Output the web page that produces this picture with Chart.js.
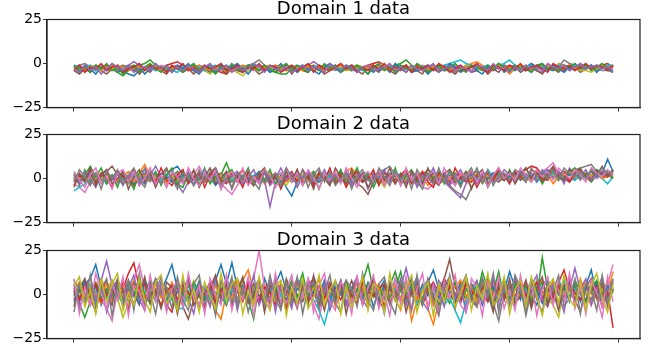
<!DOCTYPE html>
<html>
<head>
<meta charset="utf-8">
<script src="https://cdn.jsdelivr.net/npm/chart.js@4.4.0/dist/chart.umd.min.js"></script>
<style>
    html, body { margin: 0; padding: 0; background: #fff; }
    #wrap { position: relative; width: 648px; height: 351px; overflow: hidden; }
    .panel { position: absolute; left: 0; width: 648px; height: 116px; }
</style>
</head>
<body>
<div id="wrap">
    <div class="panel" style="top:0px"><canvas id="chart1" width="648" height="116"></canvas></div>
    <div class="panel" style="top:115px"><canvas id="chart2" width="648" height="116"></canvas></div>
    <div class="panel" style="top:231px"><canvas id="chart3" width="648" height="116"></canvas></div>
</div>
<script>
const titles = ["Domain 1 data", "Domain 2 data", "Domain 3 data"];
const steps = Array.from({ length: 100 }, (_, i) => i);
const xTicks = [0, 20, 40, 60, 80, 100];
const yTicks = [-25, 0, 25];
const palette = ["#1f77b4", "#ff7f0e", "#2ca02c", "#d62728", "#9467bd",
    "#8c564b", "#e377c2", "#7f7f7f", "#bcbd22", "#17becf"];

// domain 1: small noise around -2.5
const domain1 = [
    [-3,-2,-4,-3,-1,-2,-4,-3,-5,-4,-6,-7,-4,-2,-3,-1,-2,-4,-3,-2,
     -3,-4,-1,-2,-3,-5,-3,-2,-1,-3,-4,-2,-3,-1,-4,-2,-5,-3,-2,-1,
     -2,-4,-3,-1,-2,-3,-4,-2,-1,-3,-2,-4,-1,-2,-3,-5,-2,-3,-1,-2,
     -3,-1,-4,-2,-3,-1,-2,-4,-3,-2,-1,-3,-2,-4,-1,-2,-3,-1,-2,-4,
     -2,-1,-3,-2,0,-2,-1,-3,-4,-1,-2,-3,-1,-2,-1,-3,-2,-1,-3,-2],
    [-1,-3,-4,-2,-1,-3,-2,-4,-2,-1,-3,-4,-2,-3,-1,-4,-2,-3,-4,-2,
     -1,-3,-4,-2,-3,-1,-2,-4,-5,-2,-3,-1,-2,-4,-3,-2,-1,-3,-2,-4,
     -2,-5,-3,-2,-1,-3,-2,-4,-2,-1,-3,-4,-2,-3,-1,-2,-3,-4,-2,-1,
     -1,-3,-2,-4,-1,-2,-3,-4,-2,-3,-5,-3,-2,0,1,-1,-3,-1,-2,-3,
     -6,-3,-1,-2,-3,-4,-1,-2,-3,0,-1,-2,-3,-1,-2,-3,-1,-2,-1,-2],
    [-2,-3,-2,-1,-4,-2,-4,-3,-5,-7,-4,-2,-1,0,2,-1,-3,-4,-2,-3,
     -4,-2,-1,-3,-4,-2,-3,-1,-2,-4,-3,-2,-4,-1,-2,-3,-4,-5,-6,-6,
     -3,-2,-3,-1,-2,-4,-3,-2,-1,-3,-4,-2,-1,-3,-2,-4,-3,-1,-2,-1,
     0,2,-1,-3,-4,-5,-3,-2,-3,-1,-2,-4,-3,-2,-1,-3,-4,-2,-3,-1,
     -2,-3,-1,-4,-2,-3,-1,-2,-3,-4,-1,-2,-3,-1,-2,-3,-1,-2,-3,-1],
    [-2,-1,-3,-4,-2,-3,-1,-2,-4,-3,-2,-1,-4,-3,-2,-1,-3,-1,0,1,
     -1,-3,-4,-2,-3,-4,-4,-5,-6,-3,-2,-3,-1,-2,-4,-3,-2,-1,-3,-2,
     -4,-2,-1,-3,-2,-4,-3,-1,-2,-3,-1,-2,-4,-3,-1,0,1,-1,-3,-2,
     -4,-2,-3,-1,-2,-4,-3,-2,-1,-3,-2,-4,-3,-1,-2,-3,-1,-4,-2,-3,
     -1,-2,-3,-4,-1,-2,-3,-1,-2,-3,-4,-2,-1,-3,-2,-1,-3,-1,0,-2],
    [-3,-4,-2,-3,-1,-4,-2,-3,-4,-2,-1,1,-1,-3,-4,-2,-3,-4,-2,-1,
     -3,-2,-4,-1,-2,-3,-4,-2,-3,-1,-2,-4,-3,-2,-1,-3,-4,-2,-3,-1,
     -2,-4,-3,-1,1,-1,-2,-3,-4,-2,-3,-1,-2,-4,-3,-2,-1,-3,-2,-4,
     -2,-1,-3,-4,-2,-3,-1,-2,-4,-3,-2,-1,-3,-2,-4,-2,-1,-3,-2,-1,
     -4,-2,-3,-1,-2,-4,-5,-2,-1,-3,-2,-1,-2,-4,-3,-1,-2,-3,-1,-2],
    [-4,-6,-3,-5,-2,-4,-6,-3,-1,-5,-4,-2,-6,-3,-5,-1,-4,-6,-2,-3,
     -5,-3,-6,-2,-4,-1,-5,-3,-6,-2,-4,-5,-1,-3,-6,-4,-2,-5,-3,-1,
     -6,-2,-4,-5,-1,-3,-6,-4,-2,-5,-3,-1,-4,-6,-2,-3,-5,-1,-4,-6,
     -3,-5,-2,-4,-6,-1,-3,-5,-2,-4,-6,-3,-1,-5,-4,-2,-6,-3,-5,-1,
     -4,-2,-5,-3,-1,-4,-6,-2,-3,-5,-1,-4,-2,-5,-3,-1,-4,-2,-3,-5],
    [-2,-1,-3,-2,-4,-1,-2,-3,-1,-4,-2,-3,-1,-2,-3,-4,-1,-2,-3,-1,
     -2,-4,-2,-1,-3,-2,-1,-4,-2,-3,-1,-2,-3,-4,-2,-1,-3,-2,-1,-2,
     -1,-3,-4,-2,-3,-1,-2,-1,-3,-4,-2,-1,-3,-2,-1,-2,-4,-2,-1,-3,
     -2,-1,-3,-2,-1,-4,-2,-1,-3,-2,-1,-3,-2,-4,-1,-2,-3,-1,-2,-3,
     -1,-2,-1,-3,-2,-1,-4,-2,-1,-3,-1,-2,-3,-1,-2,-1,-4,-2,-1,-3],
    [-2,-1,0,-2,-4,-3,-2,-4,-3,-1,-2,-4,-5,-3,-2,-1,-3,-4,-2,-3,
     -1,-2,-4,-3,-2,-1,-3,-2,-4,-3,-1,-2,-1,0,2,-1,-3,-2,-4,-3,
     -2,-1,-3,-4,-2,-3,-1,-2,-3,-4,-2,-1,-3,-2,-4,-3,-2,-1,-3,-2,
     -4,-3,-1,-2,-3,-4,-2,-3,-4,-4,-5,-3,-2,-1,-3,-2,-4,-3,-1,-2,
     -3,-1,-2,-4,-3,-1,-2,-3,-1,-2,2,0,-1,-3,-2,-1,-3,-4,-4,-5],
    [-3,-4,-2,-3,-1,-2,-4,-3,-2,-4,-1,-3,-2,-4,-3,-1,-2,-3,-4,-2,
     -3,-1,-2,-4,-4,-6,-3,-2,-4,-4,-5,-7,-4,-2,-3,-1,-2,-4,-3,-2,
     -1,-3,-4,-2,-3,-1,-2,-4,-3,-2,-4,-3,-1,-2,-3,-4,-2,-1,-3,-4,
     -2,-3,-1,-2,-4,-3,-2,-1,-3,-2,-4,-3,-1,-2,-3,-4,-2,-3,-1,-2,
     -3,-4,-2,-1,-3,-2,-1,-3,-2,-4,-2,-1,-3,-4,-4,-5,-3,-2,-3,-1],
    [-1,-2,-3,-1,-4,-2,-3,-1,-2,-3,-4,-2,-1,-3,-2,-4,-2,-3,-4,-5,
     -2,-1,-3,-2,-4,-2,-1,-3,-2,-4,-3,-2,-1,-3,-4,-2,-3,-1,-2,-3,
     -4,-2,-1,-3,-2,-1,-3,-4,-2,-3,-1,-2,-3,-4,-2,-1,-3,-2,-4,-2,
     -1,-3,-2,-4,-2,-1,-3,-2,-1,0,1,2,0,-1,-3,-2,-1,-3,-1,0,
     2,-1,-3,-2,-1,-3,-2,-1,-2,-1,-3,-2,-1,-2,-1,-3,-1,-2,-1,-1],
    [-2,-5,-1,-3,-6,-2,-4,0,-3,-5,-1,-4,-2,-6,-3,0,-4,-2,-5,-1,
     -3,0,-4,-6,-2,-3,-5,-1,-4,-2,0,-3,-6,-2,-4,-1,-5,-3,0,-4,
     -2,-5,-1,-3,-4,-6,-2,0,-3,-5,-1,-4,-2,-3,-6,-1,-4,-2,-5,0,
     -3,-1,-5,-4,-2,-6,-3,-1,-4,0,-2,-5,-3,-1,-4,-6,-2,-3,0,-5,
     -2,-4,-1,-3,-5,-2,0,-4,-1,-3,-5,-2,-4,0,-3,-1,-5,-2,-3,-4],
    [-2,-4,-3,-2,-3,-4,-2,-1,-3,-2,-4,-3,-2,-3,-1,-2,-4,-2,-3,-2,
     -4,-3,-2,-1,-3,-4,-2,-3,-2,-4,-3,-1,-2,-3,-4,-2,-3,-1,-2,-4,
     -3,-2,-4,-1,-3,-2,-4,-3,-2,-1,-3,-4,-2,-3,-2,-1,-3,-2,-4,-3,
     -2,-1,-3,-2,-4,-3,-2,-1,-3,-2,-4,-3,-2,-1,-2,-3,-4,-2,-1,-3,
     -2,-3,-1,-2,-4,-2,-3,-1,-2,-3,-2,-1,-3,-2,-1,-2,-3,-1,-2,-2],
    [-1,-4,-2,-5,-1,-3,0,-4,-2,-6,-3,-1,-5,-2,0,-3,-5,-1,-4,-2,
     -5,-2,0,-4,-1,-3,-6,-2,-4,0,-3,-5,-1,-2,-4,-1,-3,-5,-2,0,
     -4,-1,-3,-5,-2,-4,0,-3,-1,-5,-2,-4,-1,-3,-6,-2,0,-4,-2,-5,
     -1,-3,-4,0,-2,-5,-3,-1,-4,-2,0,-3,-5,-1,-2,-4,-1,-3,0,-2,
     -4,-1,-3,-2,-5,-1,0,-3,-2,-4,-1,-2,0,-3,-1,-4,-2,0,-3,-1],
    [-4,-1,-5,-2,-3,0,-4,-2,-1,-5,-3,-2,0,-4,-1,-3,-2,-5,-1,-3,
     0,-4,-2,-5,-1,-3,-2,0,-4,-3,-1,-5,-2,-3,0,-4,-1,-2,-5,-3,
     -1,-4,-2,0,-5,-1,-3,-4,-2,0,-3,-1,-5,-2,-4,-1,-3,0,-4,-2,
     -3,-1,-5,-2,-3,-1,-4,0,-2,-5,-3,-1,-4,-2,0,-3,-5,-1,-2,-4,
     -1,-3,0,-4,-2,-1,-3,-5,0,-2,-3,-1,-4,-2,0,-3,-1,-2,-4,-1],
    [-3,-5,-1,-4,-2,-6,-3,0,-2,-4,-1,-5,-3,-2,-4,0,-3,-1,-5,-2,
     -4,-1,-3,-5,-2,0,-4,-3,-1,-5,-2,-4,-3,0,-2,-5,-1,-3,-4,-2,
     -5,-3,-1,-4,-2,-3,-5,0,-2,-4,-1,-3,-5,-2,-1,-4,-3,-2,0,-4,
     -2,-5,-1,-3,-4,-2,0,-5,-3,-1,-4,-2,-3,-5,-1,-2,-4,0,-3,-2,
     -5,-2,-4,-1,-3,-2,-4,0,-2,-3,-1,-4,-2,0,-3,-2,-1,-3,-2,-4]
];

// domain 2: medium noise around 0, drifting up at the end
const domain2 = [
    [0,-2,1,3,-1,2,-3,0,4,1,-2,2,0,-3,1,3,-1,2,5,7,
     2,-1,0,3,-2,1,-4,0,2,-1,3,0,-2,1,4,-1,0,-3,2,-5,
     -10,-2,1,3,0,-1,2,-3,1,4,0,-2,1,3,-1,0,2,-4,1,3,
     -1,2,0,-3,1,2,-2,0,3,-1,1,-3,0,2,4,1,-1,3,0,2,
     -2,1,4,0,2,-1,3,5,1,0,2,4,-1,3,1,2,5,3,11,4],
    [2,0,-2,1,3,-1,0,2,-3,1,4,0,3,8,2,-1,1,-2,3,0,
     -1,2,0,-3,1,3,-1,2,0,-2,1,4,0,-1,2,-3,0,1,3,-1,
     2,-2,0,1,-3,2,0,-1,3,1,4,6,2,-1,0,3,-2,1,0,2,
     -1,3,0,-2,1,-4,0,2,-1,1,3,-2,0,-5,-1,2,0,3,1,-1,
     2,0,4,1,-1,3,0,2,-3,1,0,3,5,1,2,-1,3,0,2,4],
    [1,-2,2,7,1,-1,3,0,-2,2,-3,1,0,3,-1,2,0,-2,1,4,
     0,-1,2,-3,1,0,3,2,9,1,-2,0,3,-1,2,-2,0,1,3,-1,
     0,2,-3,1,4,0,-1,2,0,-2,1,3,0,-1,2,1,-3,0,2,-1,
     3,0,-2,1,2,-1,4,0,1,-2,3,1,-1,0,2,-3,1,3,0,-1,
     2,4,0,1,-2,3,1,0,2,-1,4,2,0,3,1,-2,2,4,1,3],
    [-1,2,0,-3,1,3,-2,0,2,-1,1,-4,0,2,-1,3,1,-2,0,2,
     -3,1,0,2,-1,3,0,-2,1,-1,2,0,-3,1,2,-1,0,3,-2,1,
     0,-1,2,1,-3,0,2,-2,1,3,0,-1,1,-2,2,0,3,-1,1,0,
     -2,2,0,-1,3,1,-2,0,2,-1,1,3,0,-2,1,2,0,-1,3,1,
     2,0,3,5,7,6,2,1,3,0,2,-1,1,3,2,0,4,1,2,0],
    [0,1,-2,2,0,-1,3,1,-2,0,2,-1,1,3,2,7,1,-2,0,-3,
     -8,-2,1,0,2,-1,3,0,-2,1,0,2,-1,1,-3,-1,-16,-2,1,0,
     2,-1,0,3,1,-2,0,2,-1,1,0,-3,2,1,-1,3,0,-2,1,2,
     0,-1,2,-2,1,0,-3,1,-2,-5,-8,-11,-3,0,2,-1,1,3,0,2,
     1,-1,3,0,2,1,-2,3,0,1,4,2,0,3,1,2,0,4,2,5],
    [-2,1,0,2,-1,3,4,7,2,0,-1,2,-3,1,0,2,-1,1,-2,0,
     3,1,-1,2,0,-2,1,3,0,-1,2,-2,0,1,-1,3,0,2,-1,1,
     -2,0,2,1,-1,0,3,-2,1,0,-1,2,-3,-5,-9,-2,1,0,2,-1,
     1,3,0,-2,2,5,3,0,-1,2,1,-2,0,3,1,-1,2,0,-2,1,
     3,0,2,-1,1,3,0,2,4,1,0,-2,2,1,3,0,2,1,3,2],
    [-3,-5,-8,-2,0,2,-1,1,-3,0,2,-1,1,0,-2,2,0,1,-1,3,
     1,-2,2,7,1,-1,0,-3,-6,-9,-4,0,2,-1,1,0,-2,1,3,0,
     -1,2,0,-2,1,3,-1,0,2,-1,1,0,3,-2,0,1,2,-1,0,2,
     -1,1,-2,-3,-5,-6,-3,-1,1,0,2,-1,1,3,0,-2,1,2,-1,3,
     0,2,1,-1,3,2,4,6,9,3,1,0,2,-1,3,1,0,2,3,1],
    [1,0,-2,1,3,-1,0,2,-1,-3,1,2,0,-1,3,1,-2,0,1,-1,
     2,0,-3,1,2,-1,0,3,1,-2,0,1,2,-1,0,-2,1,3,0,-1,
     2,1,-2,0,3,-1,1,0,2,-2,0,1,-1,3,2,0,4,5,7,2,
     0,-1,2,1,-2,0,1,-3,-1,-4,-7,-9,-12,-5,-1,2,0,1,3,-1,
     2,0,1,3,-1,2,0,3,1,2,4,3,5,6,7,8,4,2,3,1],
    [2,0,1,-2,0,3,-1,1,0,2,-2,1,3,0,-1,2,0,-3,1,-1,
     2,0,-1,1,3,-2,0,2,-1,0,1,-3,2,0,1,-1,2,-2,0,-4,
     1,0,2,-1,1,-2,3,0,-1,1,2,-1,0,3,1,-1,0,-5,1,2,
     -1,0,3,1,-1,2,0,-2,1,3,-1,0,2,1,-1,3,0,-2,2,1,
     0,3,1,-1,2,0,1,3,2,-1,2,4,1,0,3,2,1,3,2,1],
    [-7,-5,-3,-1,2,0,-2,1,3,0,-1,2,-2,1,0,3,-1,2,0,-3,
     1,2,-1,0,3,1,-2,0,2,-1,1,-3,0,2,1,-1,0,-3,1,2,
     0,-2,1,3,-1,0,2,1,-2,0,3,-1,1,0,2,-2,0,1,-1,3,
     0,2,-1,1,-3,0,2,1,-1,3,0,-2,1,2,0,-1,5,1,0,2,
     -1,1,3,0,2,-2,1,0,3,1,2,0,-1,2,0,1,2,0,-3,1],
    [1,-1,0,2,-2,1,3,0,-1,2,0,-3,1,2,-1,0,3,1,-2,0,
     2,-1,1,0,-2,3,1,-1,0,2,1,-2,0,1,3,-1,2,0,-2,1,
     0,2,-1,3,0,-2,1,0,2,-1,3,1,0,-2,1,2,-1,0,3,1,
     -1,2,0,1,-2,0,3,-1,2,0,-3,1,0,2,-1,1,0,3,2,0,
     1,3,-1,2,0,1,3,2,0,4,1,2,3,0,2,4,1,3,2,4],
    [0,2,-1,1,-2,0,2,1,-1,3,0,-2,1,2,-1,0,1,-2,2,0,
     -1,3,0,1,-2,2,0,-1,1,3,0,-2,1,0,2,-1,3,0,1,-2,
     1,0,-1,2,0,3,1,-2,0,1,-1,2,0,-1,3,1,0,-2,2,0,
     1,-2,0,3,0,-1,2,1,-2,0,-4,2,1,-1,3,0,2,-1,1,0,
     3,1,0,2,-1,3,1,2,0,3,2,0,1,4,2,1,3,0,1,2],
    [3,-4,5,-2,1,6,-3,2,-5,4,0,-6,3,5,-1,4,-4,2,6,-3,
     -5,2,4,-1,6,-3,1,-5,3,5,-2,0,6,-4,2,-1,5,-3,0,4,
     -2,5,-4,1,3,-6,2,4,-1,5,-3,0,6,-2,3,-5,1,4,-2,6,
     -4,2,5,-1,-6,3,0,4,-3,5,1,-4,2,6,-2,3,-5,1,4,-1,
     5,-2,3,6,0,4,-3,2,5,1,-2,4,6,0,3,-1,5,2,4,0],
    [-4,2,-1,5,-3,3,0,-5,4,1,-2,5,-4,0,3,-2,6,-1,-4,2,
     5,-3,0,4,-5,2,6,-1,-3,3,1,-5,4,-2,0,5,-3,2,-6,1,
     4,-2,5,0,-4,3,-1,6,-3,2,-5,1,4,-2,0,5,-4,3,1,-3,
     2,5,-3,0,4,-2,-5,3,1,-4,6,0,-2,4,-5,1,3,-1,5,2,
     -3,4,1,-2,5,3,0,-1,6,2,4,-2,3,5,1,-1,4,3,2,5],
    [2,-3,4,0,-5,2,5,-1,3,-4,1,4,-2,6,0,-3,2,-5,3,1,
     -2,4,-4,1,5,-1,3,-6,0,2,4,-3,1,5,-2,3,-4,0,6,-1,
     3,-5,1,4,-2,0,5,-3,2,-1,4,-4,1,3,-6,2,0,5,-2,4,
     1,-3,4,-5,2,0,6,-2,3,-4,1,5,-1,3,-3,2,4,-2,0,5,
     2,-1,4,1,3,-2,5,2,0,4,-3,6,2,1,5,-1,3,4,1,3],
    [-5,3,-1,6,-4,2,5,-3,0,4,-6,1,5,-2,3,-5,2,6,-1,-4,
     4,-2,5,-5,1,6,-3,0,4,-6,2,5,-1,-4,3,6,-2,1,-5,4,
     -1,5,-3,2,-6,4,0,-4,6,1,-3,5,-2,3,-5,0,4,-1,6,-3,
     2,-5,4,1,-3,6,-1,-4,3,5,-2,0,4,-6,2,5,-3,1,6,-1,
     4,-3,2,6,0,5,-2,3,7,1,-1,5,3,6,0,4,2,7,1,5],
    [4,-1,-5,2,6,-3,1,-6,3,5,-2,4,-4,0,6,-3,2,-5,4,1,
     -3,6,0,-4,3,-1,5,-6,2,4,-2,6,-4,1,-3,5,2,-5,0,6,
     -2,3,-4,5,1,-6,3,-1,4,-3,6,0,-5,2,4,-2,5,-4,1,3,
     -4,6,-1,3,-5,2,4,-3,6,0,-4,3,1,5,-2,4,-5,2,6,0,
     3,-1,6,2,-2,5,1,4,-1,6,3,0,5,2,-2,6,3,1,5,2],
    [-2,5,1,-4,3,-6,4,0,5,-3,2,6,-1,-5,4,2,-3,5,0,-6,
     3,1,-4,5,-2,4,6,-3,0,-5,3,1,5,-2,-6,4,0,3,-4,6,
     1,-3,5,-5,2,6,-2,4,-4,0,3,-6,2,5,-1,-3,6,1,-4,4,
     -1,3,-6,5,0,2,-3,6,-2,4,1,-5,3,0,6,-2,5,-4,2,3,
     -1,5,3,-2,6,1,4,0,5,-1,6,3,1,4,0,5,2,6,3,4]
];

// domain 3: wide noise around 0
const domain3 = [
    [3,-2,6,9,17,4,-3,5,1,-6,2,8,-1,4,-5,7,2,9,17,3,
     -4,6,1,-7,5,0,8,17,6,18,4,-3,7,2,-5,9,1,6,13,2,
     -6,4,8,-2,5,-8,1,7,-3,6,2,-5,9,0,4,-7,3,8,-1,5,
     -4,2,9,1,-6,7,14,3,-2,8,0,-5,6,2,-3,9,1,-8,5,2,
     13,4,-3,7,0,-6,5,9,-2,3,6,-4,8,1,5,14,-1,6,3,8],
    [-5,2,7,-3,4,9,1,-4,6,0,-7,3,8,-2,5,1,-6,4,-1,7,
     2,-4,6,-8,3,-2,-9,-14,1,5,-3,8,14,2,-5,6,0,-3,7,-6,
     3,9,-1,-5,4,8,-2,6,-7,1,5,-3,7,0,-4,9,2,-6,3,-2,
     -9,4,-15,-3,5,-8,-17,-4,2,6,-1,8,-5,3,0,7,-4,2,9,-3,
     5,-2,6,1,-7,4,8,-1,3,-5,6,2,-3,9,0,-6,5,4,1,13],
    [2,-5,-13,-4,6,1,-2,8,3,-6,4,-1,7,0,-5,9,2,-3,6,-7,
     1,5,-2,8,-4,3,7,-1,-6,4,2,9,-3,-14,5,0,-4,8,1,-6,
     6,3,12,-2,4,-7,2,6,-1,8,-5,3,0,7,17,2,-4,6,-2,3,
     13,-1,5,-6,2,8,-3,4,0,-5,7,1,-2,6,3,-4,9,2,13,-3,
     5,-6,4,0,7,-2,21,3,-5,6,1,-3,8,2,-4,5,0,7,-1,3],
    [-3,4,1,-6,5,2,8,-2,6,3,12,18,4,-3,7,-1,2,-6,-10,3,
     6,-2,5,0,-7,4,9,1,-4,6,2,-3,8,0,-5,3,7,-2,4,-8,
     1,6,-3,5,9,-1,2,-6,4,0,7,-4,3,8,-2,5,1,-7,6,2,
     -3,8,0,-5,4,1,6,-2,9,3,-6,2,5,-1,7,0,-4,8,2,-3,
     5,-1,6,3,-5,8,0,4,-2,7,14,3,-4,6,1,-3,5,-7,2,-19],
    [1,-4,3,6,-2,8,19,5,-3,2,7,-1,4,-6,3,9,0,-5,6,2,
     -3,8,1,-7,4,0,6,-2,9,3,-5,1,7,-3,5,-1,8,2,-6,4,
     0,6,-3,9,1,-5,4,7,-2,3,8,-4,2,6,-1,5,-7,3,0,9,
     4,15,2,-3,6,1,-5,8,3,-2,7,0,-6,4,2,9,-1,5,-4,8,
     2,-3,6,1,8,-2,4,7,0,-5,9,3,15,2,-3,6,1,-2,5,3],
    [4,-2,7,1,-5,3,-1,6,-3,2,8,0,-6,5,2,-4,7,1,-2,6,
     -7,-14,-3,5,0,7,-2,4,-6,3,9,1,-4,6,-1,3,-5,8,2,-3,
     5,0,-4,7,2,-6,4,1,-3,6,0,8,-2,3,-5,5,1,-3,7,2,
     -4,6,0,-2,5,3,-6,2,9,20,4,-1,6,-3,2,7,-4,1,5,-2,
     3,8,-1,4,-5,6,2,-3,7,1,-2,5,0,3,-4,6,2,-1,4,1],
    [-2,5,1,-6,3,-3,-8,-15,2,6,-1,8,17,3,-4,6,0,-5,4,2,
     -3,7,1,-6,5,0,-2,8,3,-4,6,-1,5,9,25,4,-3,6,1,-5,
     3,8,-2,4,-6,-14,2,6,-1,3,7,-4,1,5,-2,8,0,-3,6,2,
     -5,4,7,-1,3,0,-6,5,2,8,-3,1,6,-2,4,-5,7,0,3,-1,
     6,-4,2,8,-2,5,1,-6,4,0,7,-3,5,2,-5,3,-1,-13,6,17],
    [0,6,-3,2,-5,4,1,-2,7,3,-4,5,0,-6,3,8,-1,4,-3,6,
     2,-5,4,1,-2,7,-4,3,0,6,-3,5,1,-6,4,2,-2,7,-1,3,
     -5,4,0,6,2,-3,5,-1,8,0,-4,3,6,-2,1,7,-3,4,-6,2,
     5,-1,3,7,-4,2,0,6,-3,5,1,-2,8,0,-6,4,2,-5,-15,1,
     6,-3,4,-12,2,7,-1,5,0,-4,3,6,-2,4,1,-3,5,0,7,2],
    [5,1,-3,6,2,-4,3,8,-2,-13,-5,4,0,7,-3,2,6,-1,4,-6,
     3,0,8,-2,5,-4,1,6,-3,3,7,0,-5,4,2,-1,6,-4,3,8,
     -2,5,1,-6,4,0,7,-3,2,6,-1,3,-5,8,1,-2,4,0,6,-4,
     2,7,-1,5,-3,3,0,-6,4,2,8,-2,5,1,-4,6,3,-1,7,0,
     -3,5,2,-5,4,8,0,-2,-6,-13,3,6,-1,4,0,7,-3,2,5,1],
    [8,3,-2,5,1,7,-3,4,0,-5,6,2,-1,8,3,-4,5,0,-3,-8,
     -8,2,6,-1,4,-3,7,1,-5,3,6,-2,4,0,8,-4,2,5,-1,7,
     3,-6,4,0,-3,-9,-17,-5,2,6,-1,4,7,-3,5,1,-4,6,0,3,
     -2,7,1,-5,4,8,-1,3,-6,-2,-9,-16,-4,2,6,0,5,-3,4,8,
     1,-4,6,3,-2,7,0,-5,4,2,8,-1,3,-3,6,1,5,-2,4,3],
    [-4,2,8,-1,5,-6,3,0,6,-3,4,1,-5,7,2,-2,6,-4,3,1,
     5,-3,0,7,-2,4,-6,2,8,-1,3,5,-4,1,6,-2,4,0,-5,7,
     -1,3,6,-4,2,0,8,-3,5,1,-6,4,2,-2,7,0,-4,5,3,-1,
     6,-3,2,8,-5,0,4,-2,6,1,-4,7,3,-1,5,-6,2,4,0,8,
     -2,5,1,-3,6,3,-5,2,7,0,4,-2,6,-4,3,1,7,-3,5,2],
    [3,7,-2,4,0,-5,6,2,-3,5,-1,8,3,-4,2,6,-2,0,7,-5,
     4,1,-3,6,2,-6,5,0,3,-2,8,-1,4,-5,6,2,0,-3,5,1,
     -4,7,2,-1,5,0,-3,6,-6,3,1,-2,7,4,-4,2,6,-1,0,5,
     -2,4,7,-3,1,6,-5,3,0,-2,5,8,-1,4,-4,2,6,-3,1,7,
     0,-5,3,6,-2,4,1,-3,8,2,-1,5,-4,3,7,0,-2,4,6,8],
    [-1,4,-5,2,7,-2,3,0,5,-4,6,2,-3,1,8,-1,4,-6,3,5,
     0,-3,7,2,-4,5,1,-2,6,-5,3,0,4,-1,7,-3,2,5,-6,1,
     8,-2,4,0,6,-3,1,5,-4,2,7,-1,3,-5,6,0,4,-2,5,13,
     2,-4,6,1,-2,5,3,-6,0,4,7,-3,2,6,-1,13,3,-5,4,1,
     -2,6,0,5,-3,2,7,-4,1,6,3,-2,5,0,-4,3,8,1,-2,4],
    [2,-3,5,0,6,-4,1,3,-2,7,0,-5,4,6,-1,3,-7,2,5,-3,
     6,1,-2,4,0,7,-5,3,-1,5,2,-4,6,0,-3,4,1,-6,5,2,
     -1,7,3,-4,0,5,-2,6,1,-3,4,0,-5,7,2,-1,3,6,-4,1,
     5,-2,0,4,-6,3,7,1,-3,5,0,-4,6,2,-1,3,8,-2,4,0,
     -5,3,6,-1,2,7,-3,4,0,5,-2,6,1,-3,4,2,5,0,-1,3],
    [6,-8,3,10,-4,7,-10,2,9,-6,4,11,-3,-9,5,1,10,-7,3,-5,
     8,-2,-11,6,3,-7,10,-4,1,8,-9,4,-2,11,-6,2,7,-10,5,0,
     -8,9,3,-5,11,-2,6,-9,1,8,-6,4,10,-3,-8,5,2,-11,7,-1,
     9,-6,3,10,-4,-9,6,1,-7,11,-2,5,-10,3,8,-5,0,9,-8,4,
     -6,10,2,-9,5,11,-3,-7,6,1,-10,8,-4,3,9,-6,2,10,-5,7],
    [-7,4,9,-2,-10,5,1,-6,8,3,-9,6,-1,10,-5,2,-8,7,4,-11,
     3,9,-6,0,-9,4,11,-3,6,-7,2,10,-5,-1,8,-10,5,3,-7,9,
     1,-8,6,-4,10,2,-9,5,-2,7,-11,3,8,-6,1,9,-4,-8,5,-3,
     7,-10,2,6,-5,9,-1,-9,4,8,-6,3,10,-2,-7,5,1,-10,6,-3,
     9,-5,-1,8,-8,4,10,-6,2,-9,5,7,-3,-10,4,9,-2,6,-7,3],
    [9,-11,4,-6,12,1,-8,7,-3,10,-12,5,2,-9,11,-4,6,-10,3,8,
     -7,12,-2,5,-11,9,0,-6,11,-9,4,-3,10,-12,6,2,-8,12,-5,3,
     11,-7,-1,9,-10,5,12,-4,-9,7,2,-11,10,-6,4,11,-8,1,-12,9,
     -5,10,-9,3,12,-7,5,-11,8,-2,11,-6,-10,9,4,-12,7,-3,10,-8,
     2,-9,11,-5,7,-12,3,10,-6,9,-4,12,-8,5,-11,8,1,-7,10,-4],
    [-10,6,-4,11,-8,3,9,-12,5,-2,8,-9,12,-5,1,-11,7,4,-8,10,
     -3,-9,6,11,-5,2,-12,8,-1,10,-7,5,-10,3,9,-6,11,-2,-9,7,
     -4,10,-11,4,7,-8,1,11,-5,-10,8,3,-7,12,-3,-9,6,10,-4,-11,
     7,2,-9,11,-6,8,-3,-12,5,10,-8,4,11,-4,-7,9,-1,12,-10,6,
     -6,11,4,-9,8,-3,-10,7,2,11,-7,-2,9,-11,6,3,-9,11,-5,9],
    [5,10,-7,2,-11,8,-4,6,12,-9,1,-6,9,-3,-10,7,11,-5,0,-9,
     11,-6,3,-10,7,-1,-8,12,-4,6,9,-11,2,-6,10,-3,-9,5,8,-12,
     4,-5,9,-8,-2,11,-6,3,8,-11,5,-7,-1,10,-9,6,3,-10,12,-3,
     -8,5,11,-10,2,7,-12,6,-4,9,-7,1,10,-9,5,-3,12,-6,-2,10,
     -11,3,8,-7,10,-1,-12,4,9,-5,11,-3,-7,8,-9,5,12,-2,-10,6]
];

Chart.defaults.font.family = "'DejaVu Sans', sans-serif";
Chart.defaults.color = "#000";

// matplotlib style closed box, and the title centred over the plot area
const boxPlugin = {
    id: "box",
    afterLayout(chart) {
        const t = chart.titleBlock;
        if (t) {
            t.left = chart.chartArea.left;
            t.right = chart.chartArea.right;
            t.width = t.right - t.left;
        }
    },
    afterDraw(chart) {
        const { ctx, chartArea } = chart;
        ctx.save();
        ctx.strokeStyle = "#222";
        ctx.lineWidth = 1.2;
        ctx.strokeRect(chartArea.left, chartArea.top,
            chartArea.right - chartArea.left, chartArea.bottom - chartArea.top);
        ctx.restore();
    },
};

function makeChart(id, title, seriesList) {
    const n = seriesList.length;
    const datasets = seriesList.map((values, i) => ({
        data: values,
        borderColor: palette[i % palette.length],
        borderWidth: 1.5,
        pointRadius: 0,
        fill: false,
        tension: 0,
        order: n - i,
    }));

    return new Chart(document.getElementById(id), {
        type: "line",
        data: { labels: steps, datasets: datasets },
        options: {
            responsive: false,
            animation: false,
            layout: { padding: { left: 0, right: 8, top: 0, bottom: 4.5 } },
            plugins: {
                legend: { display: false },
                tooltip: { enabled: false },
                title: {
                    display: true,
                    text: title,
                    color: "#000",
                    font: { size: 18, weight: "normal", lineHeight: 1 },
                    padding: { top: 0, bottom: 1.5 },
                },
            },
            scales: {
                x: {
                    type: "linear",
                    min: -4.95,
                    max: 103.95,
                    afterBuildTicks: (scale) => {
                        scale.ticks = xTicks.map((v) => ({ value: v }));
                    },
                    ticks: { display: false },
                    grid: {
                        drawOnChartArea: false,
                        tickLength: 4,
                        tickColor: "#333",
                    },
                    border: { color: "#222", width: 1.2 },
                },
                y: {
                    min: -25,
                    max: 25,
                    afterBuildTicks: (scale) => {
                        scale.ticks = yTicks.map((v) => ({ value: v }));
                    },
                    afterFit: (scale) => {
                        scale.width = 47;
                        scale.paddingTop = 0;
                        scale.paddingBottom = 0;
                    },
                    ticks: {
                        padding: 1,
                        color: "#000",
                        font: { size: 14 },
                        callback: (v) => String(v).replace("-", "\u2212"),
                    },
                    grid: {
                        drawOnChartArea: false,
                        tickLength: 4,
                        tickColor: "#333",
                    },
                    border: { color: "#222", width: 1.2 },
                },
            },
        },
        plugins: [boxPlugin],
    });
}

makeChart("chart1", titles[0], domain1);
makeChart("chart2", titles[1], domain2);
makeChart("chart3", titles[2], domain3);
</script>
</body>
</html>
